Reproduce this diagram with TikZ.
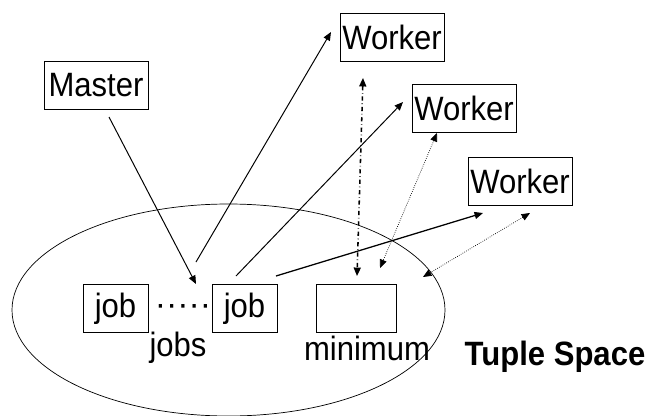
\documentclass[tikz,border=0pt]{standalone}
\usepackage{fontspec}
\setmainfont{Liberation Sans}
\usetikzlibrary{shapes,arrows.meta,positioning,calc}

\newcommand{\narrow}[1]{\scalebox{0.92}[1]{#1}}

\begin{document}
\begin{tikzpicture}[x=0.025cm,y=-0.025cm,
  box/.style={draw,inner sep=1pt,minimum height=34pt,font=\fontsize{24}{26}\selectfont},
  lbl/.style={font=\fontsize{24}{26}\selectfont},
  put/.style={-{Triangle[length=6pt,width=5pt]},line width=0.7pt},
  read/.style={{Triangle[length=6pt,width=5pt]}-{Triangle[length=6pt,width=5pt]},densely dotted,line width=0.5pt}]
\useasboundingbox (0,0) rectangle (654,416);

% Tuple space
\draw[line width=0.5pt] (228.5,310) ellipse [x radius=216.5, y radius=106];

\node[box,minimum width=74pt] (master) at (96,85) {\narrow{Master}};
\node[box,minimum width=74pt] (w1) at (392,37) {\narrow{Worker}};
\node[box,minimum width=74pt] (w2) at (464,108.5) {\narrow{Worker}};
\node[box,minimum width=74pt] (w3) at (520,181) {\narrow{Worker}};

\node[box,minimum width=46pt] (job1) at (115.5,308.5) {\narrow{job}};
\node[box,minimum width=46pt] (job2) at (244.5,308.5) {\narrow{job}};
\node[box,minimum width=57pt] (min) at (356.5,308.5) {};
\node[lbl] (dots) at (183,310) {·····};

\node[lbl] (jobs) at (178,348) {\narrow{jobs}};
\node[lbl] (minlbl) at (367,348) {\narrow{minimum}};
\node[lbl,font=\fontsize{24}{26}\selectfont\bfseries] (ts) at (555,357) {\narrow{Tuple Space}};

% end points
\coordinate (p1) at (109,117);
\coordinate (p2) at (196,284);
\coordinate (p3) at (196,262);
\coordinate (p4) at (331,32);
\coordinate (p5) at (236,276);
\coordinate (p6) at (403,102);
\coordinate (p7) at (276,276);
\coordinate (p8) at (483,213);
\coordinate (q1) at (363,78);
\coordinate (q2) at (357,276);
\coordinate (q3) at (437,133);
\coordinate (q4) at (380,268);
\coordinate (q5) at (530,213);
\coordinate (q6) at (423,277);

\draw[put] (p1) -- (p2);
\draw[put] (p3) -- (p4);
\draw[put] (p5) -- (p6);
\draw[put,line width=0.9pt] (p7) -- (p8);
\draw[{Triangle[length=6pt,width=5pt]}-{Triangle[length=6pt,width=5pt]},dash dot,line width=1.1pt] (q1) -- (q2);
\draw[read] (q3) -- (q4);
\draw[read] (q5) -- (q6);
\end{tikzpicture}
\end{document}
